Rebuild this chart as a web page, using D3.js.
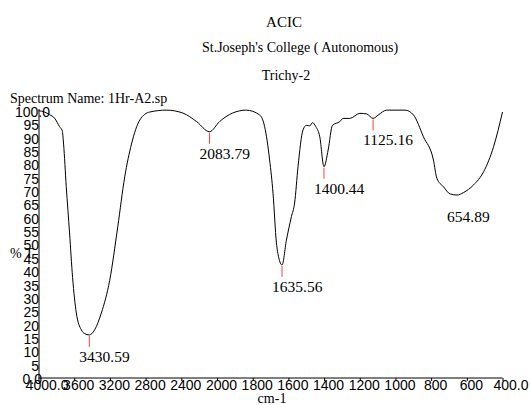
<!DOCTYPE html>
<html>
<head>
<meta charset="utf-8">
<script src="https://cdn.jsdelivr.net/npm/d3@7/dist/d3.min.js"></script>
<style>
  html, body { margin: 0; padding: 0; background: #fff; }
  svg { display: block; font-family: "Liberation Serif", "Times New Roman", serif; }
</style>
</head>
<body>
<svg id="chart" width="531" height="405"></svg>
<script>
// IR spectrum 1Hr-A2.sp : wavenumber (cm-1) vs transmittance (%T)
const wavenumbers = [4000, 3933, 3876, 3820, 3764, 3734, 3719, 3689, 3652, 3618, 3576, 3520, 3483,
  3430.59, 3371, 3296, 3202, 3112, 3034, 2958, 2865, 2753, 2565, 2382, 2228, 2083.79, 1986, 1913,
  1836, 1761, 1733, 1705, 1686, 1667, 1654, 1635.56, 1611, 1583, 1565, 1546, 1518, 1499, 1480,
  1465, 1446, 1424, 1400.44, 1377, 1353, 1312, 1293, 1256, 1199, 1162, 1125.16, 1096, 1049, 946,
  899, 843, 787, 768, 731, 693, 654.89, 619, 562, 506, 450, 400];
const transmittance = [100.5, 100, 99, 97.7, 94.5, 93, 88, 72, 54.7, 38, 24.7, 18.4, 17,
  16.5, 18.4, 24.7, 37, 57, 75.7, 88, 97, 100, 100.7, 99.6, 96.4, 92.6, 96.4, 99.6,
  100.7, 98.9, 94.5, 82, 69.6, 51, 45.5, 42.7, 52, 60.8, 65.9, 79.5, 93.3, 95, 94.8,
  96, 94.5, 90.7, 79.5, 85.8, 95, 96.4, 97.6, 97.6, 99.5, 99.3, 97.6, 98.9, 100.7, 100.7,
  98.9, 90.7, 82, 75.2, 72, 69.3, 68.9, 69.8, 72.7, 77.6, 87, 100];

// labelled peaks
const peakWavenumbers = [3430.59, 2083.79, 1635.56, 1400.44, 1125.16, 654.89];
const peakTransmittance = [16.5, 92.6, 42.7, 79.5, 97.6, 68.9];
const peakMarked = [true, true, true, true, true, false];

// axis ticks
const xTicks = [4000, 3600, 3200, 2800, 2400, 2000, 1800, 1600, 1400, 1200, 1000, 800, 600, 400];
const yTicks = d3.range(0, 101, 5);

const titleLines = ["ACIC", "St.Joseph's College ( Autonomous)", "Trichy-2"];
const spectrumName = "Spectrum Name: 1Hr-A2.sp";

const svg = d3.select("#chart");

// expanded scale below 2000 cm-1
const x = d3.scaleLinear().domain([4000, 2000, 400]).range([38.5, 217, 502.5]);
const y = d3.scaleLinear().domain([0, 100]).range([379, 112]);

// titles
svg.append("text").attr("x", 284).attr("y", 27).attr("text-anchor", "middle")
  .attr("font-size", 15).text(titleLines[0]);
svg.append("text").attr("x", 202).attr("y", 52).attr("font-size", 14).text(titleLines[1]);
svg.append("text").attr("x", 286).attr("y", 80).attr("text-anchor", "middle")
  .attr("font-size", 14).text(titleLines[2]);
svg.append("text").attr("x", 10).attr("y", 103).attr("font-size", 14).text(spectrumName);

// x axis
const xAxis = d3.axisBottom(x).tickValues(xTicks).tickSize(3).tickSizeOuter(0)
  .tickFormat(d => (d === 4000 || d === 400) ? d.toFixed(1) : String(d));
const gx = svg.append("g").attr("transform", `translate(0,${y(0) - 1})`).call(xAxis);
gx.select(".domain").attr("stroke", "#000").attr("d", `M${x(4000)},0H${x(400)}`);
gx.selectAll(".tick line").attr("stroke", "#000");
gx.selectAll(".tick text").attr("font-size", 14).attr("font-family", null)
  .attr("fill", "#000").attr("y", 2).attr("dy", "0.71em")
  .attr("dx", d => d === 4000 ? 8 : (d === 400 ? 8 : 4));

// y axis
const yAxis = d3.axisLeft(y).tickValues(yTicks).tickSize(0).tickPadding(0)
  .tickFormat(d => (d === 0 || d === 100) ? d.toFixed(1) : String(d));
const gy = svg.append("g").attr("transform", `translate(${x(4000) + 0.5},0)`).call(yAxis);
gy.select(".domain").attr("stroke", "#000").attr("d", `M0,${y(0) - 1}V${y(100) - 3}`);
gy.selectAll(".tick text").attr("font-size", 14).attr("font-family", null).attr("fill", "#000")
  .attr("dx", d => d === 100 ? 11 : (d === 0 ? 3 : 0));

// axis titles
svg.append("text").attr("x", 10).attr("y", 258).attr("font-size", 14).text("% T");
svg.append("text").attr("x", 272).attr("y", 403).attr("text-anchor", "middle")
  .attr("font-size", 14).text("cm-1");

// spectrum trace
const pts = wavenumbers.map((w, i) => [w, transmittance[i]]);
svg.append("path").datum(pts)
  .attr("fill", "none").attr("stroke", "#000").attr("stroke-width", 1)
  .attr("d", d3.line().x(d => x(d[0])).y(d => y(d[1])).curve(d3.curveMonotoneX));

// peak markers and labels
const peaks = svg.append("g");
peakWavenumbers.forEach((w, i) => {
  const px = x(w), py = y(peakTransmittance[i]);
  if (peakMarked[i]) {
    peaks.append("line").attr("x1", px).attr("x2", px).attr("y1", py + 1).attr("y2", py + 12)
      .attr("stroke", "#ff4040").attr("stroke-width", 1);
  }
  peaks.append("text").attr("x", px - 10).attr("y", py + 27)
    .attr("font-size", 15.5).text(w.toFixed(2));
});
</script>
</body>
</html>
